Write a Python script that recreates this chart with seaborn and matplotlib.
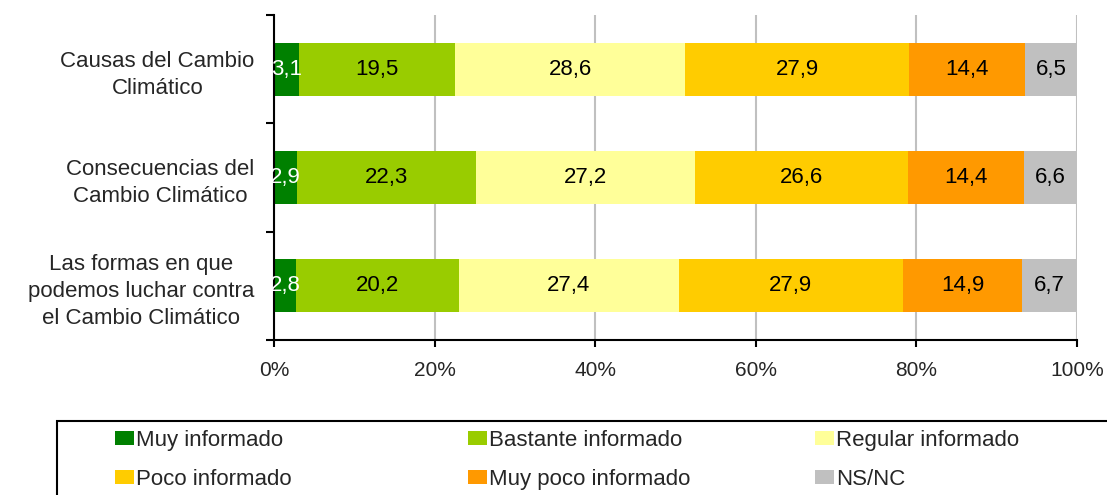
import numpy as np
import pandas as pd
import matplotlib
matplotlib.use("Agg")
import matplotlib.pyplot as plt
import seaborn as sns
from matplotlib.patches import Patch, Rectangle

# --- Data ---
categories = ["Causas del Cambio\nClimático",
              "Consecuencias del\nCambio Climático",
              "Las formas en que\npodemos luchar contra\nel Cambio Climático"]
series = ["Muy informado", "Bastante informado", "Regular informado",
          "Poco informado", "Muy poco informado", "NS/NC"]
muy_informado = [3.1, 2.9, 2.8]
bastante_informado = [19.5, 22.3, 20.2]
regular_informado = [28.6, 27.2, 27.4]
poco_informado = [27.9, 26.6, 27.9]
muy_poco_informado = [14.4, 14.4, 14.9]
ns_nc = [6.5, 6.6, 6.7]
colors = ["#008000", "#99CC00", "#FFFF99", "#FFCC00", "#FF9900", "#C0C0C0"]
label_colors = ["white", "black", "black", "black", "black", "black"]

df = pd.DataFrame({
    "categoria": categories,
    series[0]: muy_informado,
    series[1]: bastante_informado,
    series[2]: regular_informado,
    series[3]: poco_informado,
    series[4]: muy_poco_informado,
    series[5]: ns_nc,
})

sns.set_style("white")
plt.rcParams['font.family'] = ['Liberation Sans', 'DejaVu Sans']

W, H = 1107, 495
fig = plt.figure(figsize=(W / 100, H / 100), dpi=100)
ax = fig.add_axes([274 / W, 1 - 340 / H, (1077 - 274) / W, (340 - 15) / H])

# --- Stacked horizontal bars ---
left = np.zeros(len(df))
for s, c, lc in zip(series, colors, label_colors):
    sns.barplot(data=df, y="categoria", x=s, left=left, color=c, orient="h",
                width=0.49, ax=ax, saturation=1, edgecolor="none")
    for i, v in enumerate(df[s]):
        ax.text(left[i] + v / 2, i, f"{v:.1f}".replace(".", ","),
                ha="center", va="center", fontsize=16, color=lc)
    left = left + df[s].values

ax.set_xlim(0, 100)
ax.set_ylim(2.5, -0.5)
ax.set_xticks(np.arange(0, 101, 20))
ax.set_xticklabels([f"{t}%" for t in range(0, 101, 20)], fontsize=15)
ax.set_yticks(range(len(categories)))
ax.set_yticklabels(categories, fontsize=16, ha="right", multialignment="center",
                   linespacing=1.4)
ax.set_yticks([-0.5, 0.5, 1.5, 2.5], minor=True)
ax.tick_params(axis="y", which="major", length=0, pad=14)
ax.tick_params(axis="y", which="minor", length=6, width=1.5, color="black", direction="out", left=True)
ax.tick_params(axis="x", which="major", length=5, width=1.5, color="black", direction="out",
               bottom=True, pad=10)
ax.set_xlabel("")
ax.set_ylabel("")

ax.grid(axis="x", color="#C0C0C0", linewidth=1.5)
ax.set_axisbelow(True)
for side in ["top", "right"]:
    ax.spines[side].set_visible(False)
for side in ["left", "bottom"]:
    ax.spines[side].set_color("black")
    ax.spines[side].set_linewidth(1.5)

# --- Legend (three columns, box running off the right edge) ---
fig.patches.append(Rectangle((57 / W, -0.01), 1.1, 1 - 421 / H + 0.01,
                             transform=fig.transFigure, fill=False,
                             edgecolor="black", linewidth=1.5))
handles = [Patch(facecolor=c, edgecolor="none") for c in colors]
col_x = [115, 468, 815]
for j in range(3):
    leg = fig.legend([handles[j], handles[j + 3]], [series[j], series[j + 3]],
                     ncol=1, loc="upper left",
                     bbox_to_anchor=(col_x[j] / W, 1 - 430 / H),
                     frameon=False, fontsize=16,
                     handlelength=0.85, handleheight=0.6, handletextpad=0.1,
                     borderpad=0, labelspacing=0.82, borderaxespad=0)

fig.savefig("out.png", dpi=100)
